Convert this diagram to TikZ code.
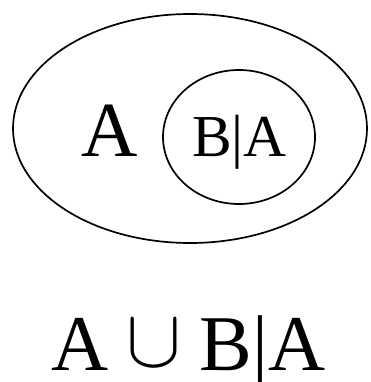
\documentclass[tikz,border=0pt]{standalone}
\usepackage{graphicx}
\usepackage{fontspec}
\setmainfont{Liberation Serif}
\usetikzlibrary{shapes.geometric}
\tikzset{
  every picture/.style={line width=1.7pt},
  set/.style={draw, ellipse, inner sep=0pt},
  big/.style={font=\fontsize{78}{78}\selectfont, inner sep=0pt, anchor=base},
  small/.style={font=\fontsize{59.5}{60}\selectfont, inner sep=0pt, anchor=base},
}
\newcommand{\bigcupsym}{\raisebox{4pt}{\resizebox{55pt}{!}{\normalsize$\cup$}}}
\begin{document}
\begin{tikzpicture}[x=1pt, y=-1pt]
  \useasboundingbox (0,0) rectangle (370,382);
  % sets
  \node[set, minimum width=354pt, minimum height=229pt] (setA) at (190,128.5) {};
  \node[set, minimum width=152pt, minimum height=134pt] (setB) at (239,137) {};
  % labels
  \node[big] (labA) at (109.5,157) {A};
  \node[small] (labB) at (239.5,157) {B|A};
  \node[big, font=\fontsize{79}{79}\selectfont] (union) at (188.5,370) {A\hspace{18pt}\bigcupsym\hspace{18pt}B|A};
\end{tikzpicture}
\end{document}
